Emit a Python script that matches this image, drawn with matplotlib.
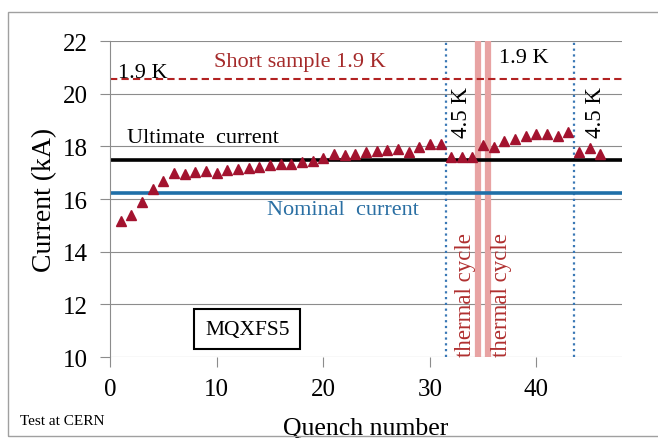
import matplotlib.pyplot as plt
from matplotlib.patches import Rectangle

plt.rcParams['font.family'] = ['Liberation Serif', 'DejaVu Serif']

# Quench training currents (kA)
quench = list(range(1, 47))
current = [15.17, 15.38, 15.87, 16.37, 16.69, 17.00, 16.97, 17.03, 17.07, 16.98,
           17.10, 17.13, 17.18, 17.23, 17.31, 17.35, 17.35, 17.39, 17.45, 17.56,
           17.73, 17.69, 17.73, 17.80, 17.83, 17.87, 17.89, 17.77, 17.96, 18.08,
           18.11, 17.60, 17.58, 17.58, 18.06, 17.98, 18.19, 18.30, 18.40, 18.46,
           18.46, 18.38, 18.55, 17.77, 17.94, 17.73]

short_sample = 20.55
ultimate = 17.5
nominal = 16.23
temp_changes = [31.5, 43.5]     # 1.9 K <-> 4.5 K
thermal_cycles = [34.5, 35.5]

fig = plt.figure(figsize=(6.58, 4.39), dpi=100)
ax = fig.add_axes([0.167, 0.1845, 0.778, 0.7195])

# frame around the whole figure
fig.patches.append(Rectangle((8 / 658, 0.005), 1.0, 0.965, transform=fig.transFigure,
                             fill=False, edgecolor='#a0a0a0', lw=1.0))

ax.set_xlim(0, 48)
ax.set_ylim(10, 22)
ax.set_yticks(range(10, 23, 2))
ax.set_xticks(range(0, 41, 10))
ax.yaxis.grid(True, color='#8c8c8c', lw=0.8)
ax.set_axisbelow(True)
for s in ['top', 'right', 'bottom']:
    ax.spines[s].set_visible(False)
ax.spines['left'].set_color('#8c8c8c')
ax.tick_params(axis='both', labelsize=18, length=7, color='#8c8c8c', width=0.8)
ax.tick_params(axis='y', pad=9)
ax.tick_params(axis='x', pad=8)

for x in thermal_cycles:
    ax.axvline(x, color='#e8a3a3', lw=4.5, zorder=1)
for x in temp_changes:
    ax.axvline(x, color='#3a78b5', lw=1.6, ls=(0, (1, 1.6)), zorder=2)

ax.axhline(short_sample, color='#b22222', lw=1.5, ls=(0, (3.5, 2)), zorder=2)
ax.axhline(ultimate, color='black', lw=2.6, zorder=2)
ax.axhline(nominal, color='#1f6fa8', lw=2.6, zorder=2)

ax.plot(quench, current, ls='none', marker='^', ms=7.5, color='#a3132f', zorder=3)

fs = 16
ax.text(0.75, 20.64, '1.9 K', fontsize=fs)
ax.text(9.8, 21.06, 'Short sample 1.9 K', fontsize=fs, color='#a52a2a')
ax.text(36.5, 21.19, '1.9 K', fontsize=fs)
ax.text(1.6, 18.18, 'Ultimate  current', fontsize=fs)
ax.text(14.7, 15.43, 'Nominal  current', fontsize=fs, color='#2a6fa3')
for x in [33.0, 45.5]:
    ax.text(x, 19.32, '4.5 K', fontsize=16.5, rotation=90, ha='center', va='center')
for x in [33.3, 36.75]:
    ax.text(x, 10.05, 'thermal cycle', fontsize=16.5, rotation=90, ha='center',
            va='bottom', color='#b03030')
ax.text(12.9, 11.06, 'MQXFS5', fontsize=15.5, ha='center', va='center',
        bbox=dict(boxstyle='square,pad=0.5', fc='white', ec='black', lw=1.5))

ax.set_ylabel('Current (kA)', fontsize=20, labelpad=4)
ax.set_xlabel('Quench number', fontsize=18.5, labelpad=12)
fig.text(20 / 658, 0.039, 'Test at CERN', fontsize=11, va='center')

fig.savefig('out.png', dpi=100)
